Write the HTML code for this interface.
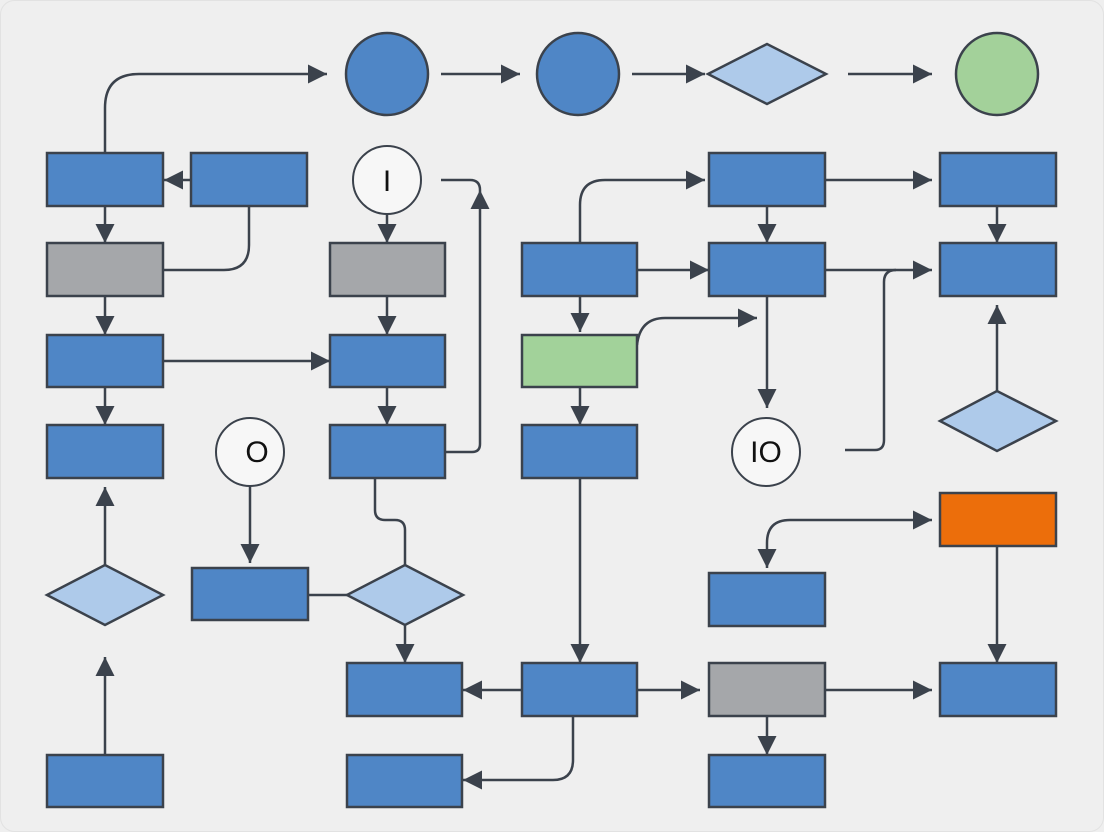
<!DOCTYPE html>
<html><head><meta charset="utf-8"><style>
html,body{margin:0;padding:0;background:#efefef;}
svg{display:block}
</style></head><body>
<svg width="1104" height="832" viewBox="0 0 1104 832" xmlns="http://www.w3.org/2000/svg">
<defs>
<marker id="m" viewBox="0 0 10 10" refX="10" refY="5" markerWidth="19" markerHeight="20" markerUnits="userSpaceOnUse" orient="auto-start-reverse">
<path d="M0,0 L10,5 L0,10 z" fill="#3b424c"/></marker>
</defs>
<rect x="0.5" y="0.5" width="1103" height="831" rx="14" fill="#efefef" stroke="#e2e2e2"/>
<g fill="none" stroke="#3b424c" stroke-width="2.5" marker-end="url(#m)">
<path d="M105,153 V108 Q105,74 139,74 H327"/>
<path d="M441,74 H520"/>
<path d="M632,74 H705"/>
<path d="M848,74 H932"/>
<path d="M191,180 H164"/>
<path d="M249,206 V245 Q249,270 224,270 H163" marker-end="none"/>
<path d="M105,206 V243"/>
<path d="M105,296 V335"/>
<path d="M105,387 V425"/>
<path d="M163,361 H330"/>
<path d="M387,214 V243"/>
<path d="M387,296 V335"/>
<path d="M387,387 V425"/>
<path d="M445,452 H472 Q480,452 480,444 V190"/>
<path d="M441,180 H470 Q480,180 480,190" marker-end="none"/>
<path d="M105,565 V487"/>
<path d="M105,755 V657"/>
<path d="M250,486 V563"/>
<path d="M308,595 H347" marker-end="none"/>
<path d="M375,478 V510 Q375,520 385,520 H395 Q405,520 405,530 V565" marker-end="none"/>
<path d="M405,625 V663"/>
<path d="M522,690 H463"/>
<path d="M580,478 V663"/>
<path d="M573,716 V760 Q573,780 553,780 H463"/>
<path d="M637,690 H700"/>
<path d="M825,690 H932"/>
<path d="M767,716 V755"/>
<path d="M997,546 V663"/>
<path d="M932,520 H790 Q767,520 767,543 V568" marker-start="url(#m)"/>
<path d="M580,243 V205 Q580,180 605,180 H705"/>
<path d="M637,270 H709"/>
<path d="M767,206 V243"/>
<path d="M825,180 H932"/>
<path d="M997,206 V243"/>
<path d="M825,270 H932"/>
<path d="M637,345 Q640,318 665,318 H757"/>
<path d="M580,296 V332"/>
<path d="M580,387 V425"/>
<path d="M767,296 V408"/>
<path d="M845,450 H875 Q884,450 884,440 V282 Q884,270 896,270" marker-end="none"/>
<path d="M997,391 V305"/>
</g>
<g stroke="#3b424c" stroke-width="2.5">
<g fill="#4f86c6">
<rect x="47" y="153" width="116" height="53"/>
<rect x="191" y="153" width="116" height="53"/>
<rect x="47" y="335" width="116" height="52"/>
<rect x="330" y="335" width="115" height="52"/>
<rect x="47" y="425" width="116" height="53"/>
<rect x="330" y="425" width="115" height="53"/>
<rect x="192" y="568" width="116" height="52"/>
<rect x="347" y="663" width="115" height="53"/>
<rect x="347" y="755" width="115" height="52"/>
<rect x="47" y="755" width="116" height="52"/>
<rect x="522" y="243" width="115" height="53"/>
<rect x="522" y="425" width="115" height="53"/>
<rect x="522" y="663" width="115" height="53"/>
<rect x="709" y="153" width="116" height="53"/>
<rect x="709" y="243" width="116" height="53"/>
<rect x="709" y="573" width="116" height="53"/>
<rect x="709" y="755" width="116" height="52"/>
<rect x="940" y="153" width="116" height="53"/>
<rect x="940" y="243" width="116" height="53"/>
<rect x="940" y="663" width="116" height="53"/>
<circle cx="387" cy="74" r="41"/>
<circle cx="578" cy="74" r="41"/>
</g>
<g fill="#a5a7aa">
<rect x="47" y="243" width="116" height="53"/>
<rect x="330" y="243" width="115" height="53"/>
<rect x="709" y="663" width="116" height="53"/>
</g>
<rect x="522" y="335" width="115" height="52" fill="#a2d29a"/>
<rect x="940" y="493" width="116" height="53" fill="#ec6e0b"/>
<circle cx="997" cy="74" r="41" fill="#a3d19a"/>
<g fill="#aecaea">
<path d="M708,74 L767,44 L826,74 L767,104 z"/>
<path d="M47,595 L105,565 L163,595 L105,625 z"/>
<path d="M347,595 L405,565 L463,595 L405,625 z"/>
<path d="M940,421 L997,391 L1056,421 L997,451 z"/>
</g>
<g fill="#f7f7f7" stroke-width="2">
<circle cx="387" cy="180" r="34"/>
<circle cx="250" cy="452" r="34"/>
<circle cx="766" cy="452" r="34"/>
</g>
</g>
<g font-family="Liberation Sans, sans-serif" font-size="30" fill="#111" text-anchor="middle">
<text x="387" y="191">I</text>
<text x="257" y="462">O</text>
<text x="766" y="462">IO</text>
</g>
</svg>
</body></html>
